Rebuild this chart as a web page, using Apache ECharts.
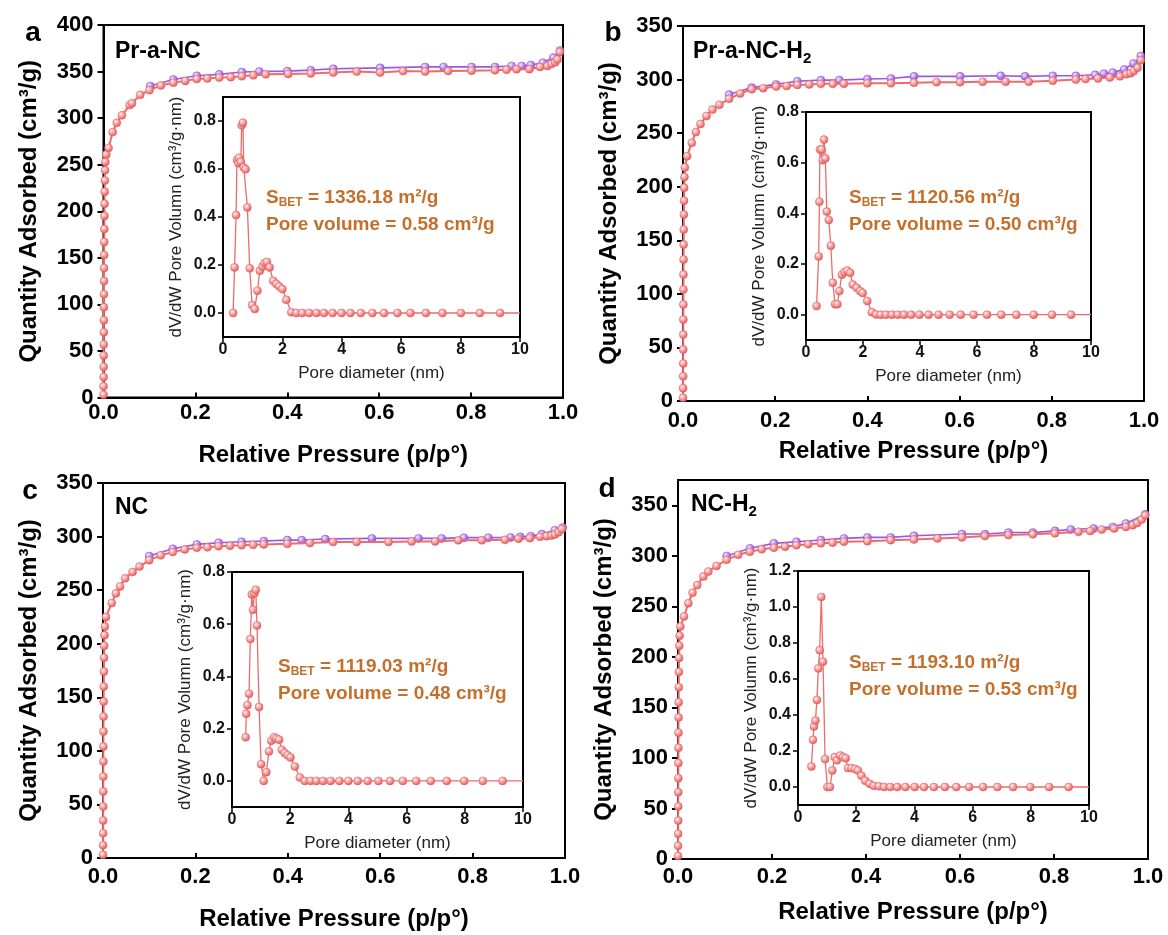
<!DOCTYPE html>
<html><head><meta charset="utf-8">
<script src="https://cdn.jsdelivr.net/npm/echarts@6/dist/echarts.min.js"></script>
<style>html,body{margin:0;padding:0;background:#fff}#c{width:1168px;height:935px}</style>
</head><body><div id="c"></div>
<script>
// ---------------- DATA ----------------
const xTicksMain = [0, 0.2, 0.4, 0.6, 0.8, 1.0];
const yTicksA = [0, 50, 100, 150, 200, 250, 300, 350, 400];
const yTicksB = [0, 50, 100, 150, 200, 250, 300, 350];
const yTicksC = [0, 50, 100, 150, 200, 250, 300, 350];
const yTicksD = [0, 50, 100, 150, 200, 250, 300, 350];
const xTicksInset = [0, 2, 4, 6, 8, 10];
const psdTicksA = [0, 0.2, 0.4, 0.6, 0.8];
const psdTicksB = [0, 0.2, 0.4, 0.6, 0.8];
const psdTicksC = [0, 0.2, 0.4, 0.6, 0.8];
const psdTicksD = [0, 0.2, 0.4, 0.6, 0.8, 1.0, 1.2];

const panelLetters = ['a', 'b', 'c', 'd'];
const sampleNames = ['Pr-a-NC', 'Pr-a-NC-H', 'NC', 'NC-H'];
const sampleSubs = ['', '2', '', '2'];
const sbetValues = ['1336.18', '1120.56', '1119.03', '1193.10'];
const poreVolumes = ['0.58', '0.50', '0.48', '0.53'];

const adsA = [[0.0001,3],[0.0002,12],[0.0003,22],[0.0004,33],[0.0005,45],[0.0006,57],[0.0007,70],[0.0008,83],[0.0009,97],[0.0010,111],[0.0011,125],[0.0012,139],[0.0014,153],[0.0016,167],[0.0018,181],[0.0020,195],[0.0023,208],[0.0026,221],[0.0030,233],[0.0035,244],[0.0040,253],[0.0060,261],[0.011,268],[0.020,285],[0.029,295],[0.040,303],[0.057,314],[0.062,316],[0.080,325],[0.100,330],[0.125,335],[0.152,338],[0.178,340],[0.203,342],[0.226,342.5],[0.252,343.5],[0.277,344],[0.301,345],[0.326,346],[0.353,347],[0.402,347.5],[0.451,348],[0.500,349],[0.551,350],[0.602,349],[0.652,350.5],[0.700,350],[0.750,350.5],[0.801,351],[0.852,351.5],[0.877,352],[0.899,352.5],[0.927,352.5],[0.950,355],[0.966,356],[0.975,358],[0.983,360],[0.988,363],[0.993,371]];
const desA = [[0.9935,372.5],[0.979,365],[0.956,359.5],[0.930,357],[0.910,356],[0.888,356],[0.852,355],[0.801,355],[0.740,355],[0.700,355],[0.602,354],[0.500,353],[0.451,351.5],[0.400,350.5],[0.339,350],[0.301,349.5],[0.252,347],[0.203,345.5],[0.152,341.5],[0.1016,334.5]];

const adsB = [[0.0001,3],[0.0002,12],[0.0003,23],[0.0004,35],[0.0005,48],[0.0006,62],[0.0007,76],[0.0008,90],[0.0009,104],[0.0010,118],[0.0012,132],[0.0014,146],[0.0016,160],[0.0019,174],[0.0022,187],[0.0026,199],[0.0031,209],[0.0040,218],[0.009,228.5],[0.019,241],[0.028,251],[0.038,258.5],[0.051,266],[0.064,272],[0.079,276.5],[0.100,282],[0.124,287],[0.149,291],[0.174,292],[0.202,293.5],[0.225,294],[0.248,295],[0.274,295.5],[0.299,296],[0.325,296],[0.349,296.2],[0.400,296.5],[0.451,296.5],[0.501,297],[0.550,297.5],[0.601,297.5],[0.650,298],[0.700,298],[0.750,298],[0.802,299],[0.852,300],[0.873,300.5],[0.900,301],[0.926,302],[0.948,303],[0.962,305],[0.971,306],[0.978,308],[0.986,311],[0.993,318]];
const desB = [[0.993,322],[0.977,315],[0.957,309.5],[0.932,306.5],[0.913,305.5],[0.894,304.5],[0.852,303.5],[0.802,303.5],[0.742,303],[0.689,303.5],[0.601,303],[0.501,303],[0.451,301],[0.400,300.5],[0.339,299.5],[0.299,299.5],[0.248,298.5],[0.202,295.5],[0.149,292.5],[0.100,286]];

const adsC = [[0.0001,3],[0.0002,12],[0.0003,23],[0.0004,35],[0.0005,48],[0.0006,62],[0.0007,76],[0.0008,90],[0.0009,104],[0.0010,118],[0.0012,132],[0.0014,146],[0.0016,160],[0.0019,174],[0.0022,187],[0.0026,198],[0.0032,208],[0.0042,216],[0.0065,225],[0.019,238],[0.028,247],[0.037,253.5],[0.048,261],[0.064,267],[0.079,272],[0.100,278],[0.125,282.5],[0.151,285.5],[0.177,288],[0.203,289.5],[0.226,290],[0.250,291],[0.275,291.5],[0.300,292],[0.325,292.3],[0.348,292.7],[0.399,293.3],[0.448,294],[0.498,295],[0.549,295],[0.618,295],[0.668,295.5],[0.719,295.5],[0.769,296.5],[0.820,296.5],[0.870,297],[0.899,298],[0.924,298.5],[0.946,299.8],[0.960,300.4],[0.971,301],[0.978,302],[0.986,304],[0.993,307]];
const desC = [[0.995,308.5],[0.978,306],[0.950,302.3],[0.926,300.4],[0.903,299.8],[0.882,299.2],[0.834,299],[0.781,299],[0.733,298.3],[0.683,298.3],[0.582,298.3],[0.481,297.7],[0.430,296.7],[0.399,296.7],[0.348,295.8],[0.300,295.2],[0.250,294.2],[0.203,292.7],[0.151,288.6],[0.100,281.8]];

const adsD = [[0.0001,3],[0.0002,13],[0.0003,25],[0.0004,38],[0.0005,52],[0.0006,66],[0.0007,80],[0.0008,95],[0.0009,110],[0.0010,125],[0.0012,140],[0.0014,155],[0.0016,170],[0.0019,185],[0.0023,199],[0.0028,211],[0.0035,221],[0.0050,230],[0.0128,240],[0.022,253],[0.031,263.5],[0.041,271],[0.054,279.5],[0.0645,284.5],[0.082,290],[0.1035,296],[0.128,301],[0.153,304],[0.178,306.5],[0.204,308],[0.228,309],[0.252,310.5],[0.277,311.5],[0.304,312.3],[0.329,313],[0.353,314],[0.403,314.5],[0.4525,315.5],[0.502,316.2],[0.552,317.2],[0.604,318.2],[0.653,319.5],[0.703,320.5],[0.755,321.2],[0.802,322.2],[0.852,323.8],[0.877,324.5],[0.9015,326],[0.928,327],[0.953,328.6],[0.9675,330.3],[0.977,332.5],[0.9865,335.8],[0.994,340]];
const desD = [[0.994,341],[0.953,332],[0.925,328.6],[0.884,327],[0.8355,326],[0.802,324.7],[0.755,323],[0.703,323],[0.653,321.5],[0.604,321.5],[0.502,319.8],[0.4525,318.2],[0.403,318.2],[0.353,317.2],[0.304,315.6],[0.252,313.9],[0.204,312.3],[0.153,307.4],[0.1035,299.8]];

const psdA = [[0.34,0],[0.39,0.19],[0.44,0.408],[0.47,0.638],[0.52,0.624],[0.54,0.647],[0.60,0.63],[0.63,0.782],[0.67,0.793],[0.70,0.606],[0.76,0.599],[0.82,0.44],[0.90,0.186],[0.98,0.033],[1.07,0.017],[1.16,0.093],[1.24,0.176],[1.33,0.194],[1.40,0.208],[1.48,0.213],[1.57,0.19],[1.69,0.134],[1.80,0.121],[1.89,0.111],[2.00,0.10],[2.13,0.055],[2.30,0.003],[2.47,0],[2.67,0],[2.90,0],[3.15,0],[3.40,0],[3.69,0],[3.99,0],[4.29,0],[4.64,0],[5.03,0],[5.42,0],[5.87,0],[6.31,0],[6.83,0],[7.39,0],[8.01,0],[8.65,0],[9.33,0],[10,0]];
const psdB = [[0.37,0.034],[0.445,0.23],[0.47,0.446],[0.49,0.652],[0.55,0.652],[0.585,0.61],[0.63,0.691],[0.68,0.617],[0.73,0.407],[0.80,0.374],[0.87,0.272],[0.94,0.126],[1.02,0.041],[1.10,0.041],[1.17,0.093],[1.26,0.158],[1.35,0.168],[1.45,0.174],[1.55,0.165],[1.64,0.119],[1.78,0.106],[1.90,0.093],[1.99,0.086],[2.15,0.054],[2.31,0.01],[2.46,0.001],[2.62,0],[2.81,0],[3.01,0],[3.22,0],[3.44,0],[3.69,0],[3.98,0],[4.30,0],[4.65,0],[5.04,0],[5.43,0],[5.88,0],[6.35,0],[6.85,0],[7.38,0],[7.99,0],[8.63,0],[9.30,0],[10,0]];
const psdC = [[0.47,0.167],[0.49,0.257],[0.53,0.29],[0.585,0.334],[0.63,0.543],[0.68,0.714],[0.72,0.655],[0.77,0.719],[0.815,0.732],[0.86,0.595],[0.93,0.283],[1.00,0.064],[1.09,0],[1.18,0.033],[1.27,0.113],[1.35,0.154],[1.45,0.167],[1.53,0.162],[1.62,0.158],[1.71,0.119],[1.81,0.107],[1.91,0.098],[2.01,0.09],[2.16,0.055],[2.33,0.013],[2.50,0],[2.70,0],[2.90,0],[3.13,0],[3.39,0],[3.69,0],[4.00,0],[4.32,0],[4.66,0],[5.03,0],[5.43,0],[5.87,0],[6.33,0],[6.83,0],[7.38,0],[7.98,0],[8.62,0],[9.30,0],[10,0]];
const psdD = [[0.46,0.114],[0.515,0.262],[0.55,0.336],[0.60,0.369],[0.65,0.484],[0.70,0.659],[0.745,0.76],[0.80,1.056],[0.86,0.696],[0.93,0.155],[1.01,0],[1.10,0],[1.18,0.092],[1.26,0.166],[1.34,0.148],[1.45,0.175],[1.55,0.166],[1.64,0.16],[1.72,0.105],[1.84,0.105],[1.96,0.10],[2.06,0.092],[2.18,0.063],[2.31,0.035],[2.46,0.018],[2.60,0.007],[2.78,0.004],[2.96,0],[3.17,0],[3.41,0],[3.69,0],[4.01,0],[4.33,0],[4.67,0],[5.05,0],[5.44,0],[5.88,0],[6.36,0],[6.85,0],[7.39,0],[7.98,0],[8.63,0],[9.30,0],[10,0]];

// ---------------- LAYOUT / STYLE ----------------
const FONT = '"Liberation Sans", Arial, Helvetica, sans-serif';
const RED = '#ee6b6b', PURPLE = '#9a58e4', ORANGE = '#c4702c';
function ball(c0, c1, c2) {
  return new echarts.graphic.RadialGradient(0.38, 0.35, 0.65, [
    {offset: 0, color: c0}, {offset: 0.5, color: c1}, {offset: 1, color: c2}]);
}
const redBall = ball('#fff2f2', '#f59d9d', '#e35a5a');
const purBall = ball('#f5ecff', '#bd90f3', '#8544da');

const panels = [
  {ads: adsA, des: desA, psd: psdA, yMax: 400, yTicks: yTicksA, pMin: -0.1, pMax: 0.9, pTicks: psdTicksA,
   grid: {left: 103.5, top: 25, width: 459.5, height: 372.5}, inset: {left: 223, top: 97, width: 297, height: 240},
   xLabelMargin: 4, xNameGap: 46, letter: [33, 33], name: [115, 52], text: [266, 198]},
  {ads: adsB, des: desB, psd: psdB, yMax: 350, yTicks: yTicksB, pMin: -0.1, pMax: 0.8, pTicks: psdTicksB,
   grid: {left: 683, top: 26, width: 461, height: 375}, inset: {left: 806, top: 112, width: 285, height: 228},
   xLabelMargin: 9, xNameGap: 38, letter: [613, 33], name: [693, 52], text: [849, 198]},
  {ads: adsC, des: desC, psd: psdC, yMax: 350, yTicks: yTicksC, pMin: -0.1, pMax: 0.8, pTicks: psdTicksC,
   grid: {left: 103, top: 483, width: 462, height: 375}, inset: {left: 232, top: 572, width: 291, height: 235},
   xLabelMargin: 8, xNameGap: 49, letter: [30, 491], name: [115, 508], text: [278, 667]},
  {ads: adsD, des: desD, psd: psdD, yMax: 375, yTicks: yTicksD, pMin: -0.1, pMax: 1.2, pTicks: psdTicksD,
   grid: {left: 678, top: 480, width: 470, height: 379}, inset: {left: 798, top: 571, width: 291, height: 234},
   xLabelMargin: 7, xNameGap: 41, letter: [607, 489], name: [691, 505], text: [849, 663]}
];

const grids = [], xAxes = [], yAxes = [], series = [], graphics = [];
const axisLine = {show: true, onZero: false, lineStyle: {color: '#000', width: 2}};

panels.forEach((p, i) => {
  const gm = 2 * i, gi = 2 * i + 1;
  grids.push(Object.assign({show: true, borderColor: '#000', borderWidth: 2, backgroundColor: 'transparent', containLabel: false}, p.grid));
  grids.push(Object.assign({show: true, borderColor: '#000', borderWidth: 2, backgroundColor: '#fff', containLabel: false, z: 3}, p.inset));

  xAxes.push({gridIndex: gm, type: 'value', min: 0, max: 1, axisLine,
    axisTick: {inside: true, length: 5, lineStyle: {width: 2, color: '#000'}, customValues: xTicksMain},
    axisLabel: {customValues: xTicksMain, formatter: v => v.toFixed(1), margin: p.xLabelMargin,
      fontFamily: FONT, fontSize: 22, fontWeight: 'bold', color: '#000'},
    splitLine: {show: false},
    name: 'Relative Pressure (p/p°)', nameLocation: 'middle', nameGap: p.xNameGap,
    nameTextStyle: {fontFamily: FONT, fontSize: 24, fontWeight: 'bold', color: '#000'}});
  yAxes.push({gridIndex: gm, type: 'value', min: 0, max: p.yMax, axisLine,
    axisTick: {length: 6, lineStyle: {width: 2, color: '#000'}, customValues: p.yTicks},
    axisLabel: {customValues: p.yTicks, margin: 10, fontFamily: FONT, fontSize: 22, fontWeight: 'bold', color: '#000'},
    splitLine: {show: false},
    name: 'Quantity Adsorbed (cm³/g)', nameLocation: 'middle', nameGap: 62,
    nameTextStyle: {fontFamily: FONT, fontSize: 24, fontWeight: 'bold', color: '#000'}});

  xAxes.push({gridIndex: gi, type: 'value', min: 0, max: 10, axisLine, z: 4,
    axisTick: {length: 5, lineStyle: {width: 1.5, color: '#000'}, customValues: xTicksInset},
    axisLabel: {customValues: xTicksInset, margin: 5, fontFamily: FONT, fontSize: 16, fontWeight: 'bold', color: '#111'},
    splitLine: {show: false},
    name: 'Pore diameter (nm)', nameLocation: 'middle', nameGap: 28,
    nameTextStyle: {fontFamily: FONT, fontSize: 17, color: '#222'}});
  yAxes.push({gridIndex: gi, type: 'value', min: p.pMin, max: p.pMax, axisLine, z: 4,
    axisTick: {length: 5, lineStyle: {width: 1.5, color: '#000'}, customValues: p.pTicks},
    axisLabel: {customValues: p.pTicks, formatter: v => v.toFixed(1), margin: 7, fontFamily: FONT, fontSize: 16, fontWeight: 'bold', color: '#111'},
    splitLine: {show: false},
    name: 'dV/dW Pore Volumn (cm³/g·nm)', nameLocation: 'middle', nameGap: 38,
    nameTextStyle: {fontFamily: FONT, fontSize: 17, color: '#222'}});

  series.push({type: 'line', xAxisIndex: gm, yAxisIndex: gm, data: p.des, symbol: 'circle', symbolSize: 8,
    lineStyle: {color: PURPLE, width: 1.6}, itemStyle: {color: purBall, borderColor: '#8a4ad8', borderWidth: 0.5}, z: 3});
  series.push({type: 'line', xAxisIndex: gm, yAxisIndex: gm, data: p.ads, symbol: 'circle', symbolSize: 8,
    lineStyle: {color: RED, width: 2}, itemStyle: {color: redBall, borderColor: '#e05a5a', borderWidth: 0.5}, z: 4});
  const psdData = p.psd.map((d, k) => k === p.psd.length - 1 ? {value: d, symbolSize: 0} : d);
  series.push({type: 'line', xAxisIndex: gi, yAxisIndex: gi, data: psdData, symbol: 'circle', symbolSize: 8,
    lineStyle: {color: RED, width: 1.3}, itemStyle: {color: redBall, borderColor: '#e05a5a', borderWidth: 0.5}, z: 6});

  graphics.push({type: 'text', x: p.letter[0], y: p.letter[1], z: 10,
    style: {text: panelLetters[i], font: 'bold 28px ' + FONT, fill: '#000', align: 'center', verticalAlign: 'middle'}});
  graphics.push({type: 'text', x: p.name[0], y: p.name[1], z: 10,
    style: {text: '{t|' + sampleNames[i] + '}' + (sampleSubs[i] ? '{s|' + sampleSubs[i] + '}' : ''),
      verticalAlign: 'middle', align: 'left',
      rich: {t: {fontFamily: FONT, fontSize: 23, fontWeight: 'bold', fill: '#000', lineHeight: 28},
             s: {fontFamily: FONT, fontSize: 15, fontWeight: 'bold', fill: '#000', lineHeight: 15, verticalAlign: 'bottom'}}}});
  graphics.push({type: 'text', x: p.text[0], y: p.text[1], z: 10,
    style: {text: '{b|S}{sub|BET}{b| = ' + sbetValues[i] + ' m²/g}', verticalAlign: 'middle', align: 'left',
      rich: {b: {fontFamily: FONT, fontSize: 19, fontWeight: 'bold', fill: ORANGE, lineHeight: 22},
             sub: {fontFamily: FONT, fontSize: 12, fontWeight: 'bold', fill: ORANGE, lineHeight: 12, verticalAlign: 'bottom'}}}});
  graphics.push({type: 'text', x: p.text[0], y: p.text[1] + 27, z: 10,
    style: {text: 'Pore volume = ' + poreVolumes[i] + ' cm³/g', font: 'bold 19px ' + FONT, fill: ORANGE,
      align: 'left', verticalAlign: 'middle'}});
});

const chart = echarts.init(document.getElementById('c'), null, {renderer: 'canvas'});
chart.setOption({
  backgroundColor: '#fff', animation: false,
  grid: grids, xAxis: xAxes, yAxis: yAxes, series: series, graphic: graphics
});
</script></body></html>
